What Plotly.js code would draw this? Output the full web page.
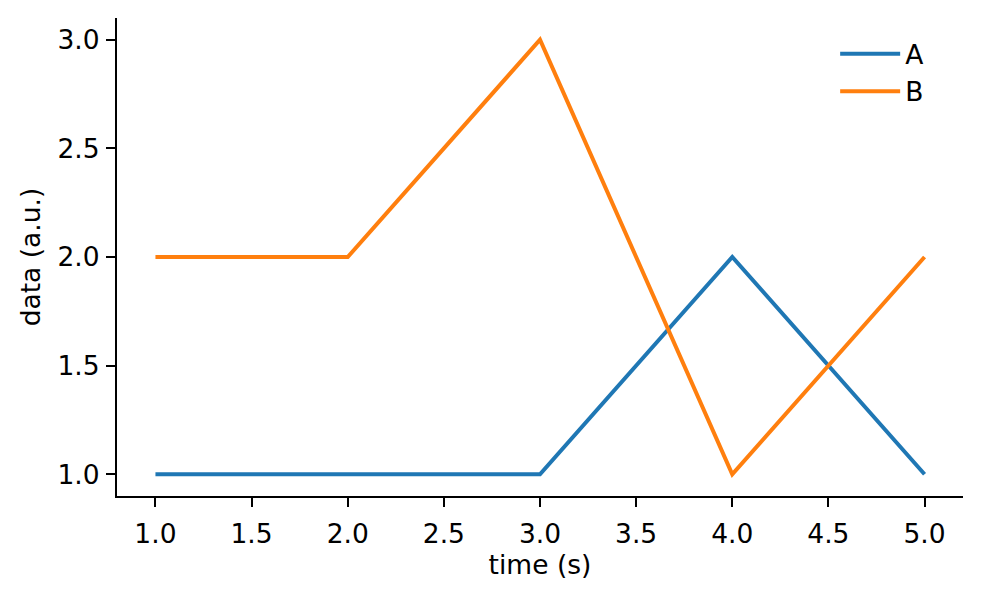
<!DOCTYPE html>
<html>
<head>
<meta charset="utf-8">
<script src="https://cdn.plot.ly/plotly-3.0.1.min.js"></script>
<style>
  html, body { margin: 0; padding: 0; background: white; }
  #chart { width: 982px; height: 598px; }
</style>
</head>
<body>
<div id="chart"></div>
<script>
// data
var time = [1, 2, 3, 4, 5]
var seriesA = [1, 1, 1, 2, 1]
var seriesB = [2, 2, 3, 1, 2]

var axisFont = {family: 'DejaVu Sans', size: 26.5, color: 'black'}

var data = [
  {
    type: 'scatter', mode: 'lines', name: 'A',
    x: time, y: seriesA,
    line: {color: '#1f77b4', width: 4}
  },
  {
    type: 'scatter', mode: 'lines', name: 'B',
    x: time, y: seriesB,
    line: {color: '#ff7f0e', width: 4}
  }
]

var layout = {
  width: 982,
  height: 598,
  margin: {l: 117, r: 19, t: 18, b: 102},
  paper_bgcolor: 'white',
  plot_bgcolor: 'white',
  font: axisFont,
  showlegend: true,
  legend: {
    x: 0.96, xanchor: 'right',
    y: 0.975, yanchor: 'top',
    bgcolor: 'rgba(0,0,0,0)',
    font: axisFont,
    itemwidth: 60,
    tracegroupgap: 0
  },
  xaxis: {
    range: [0.8, 5.2],
    tickvals: [1, 1.5, 2, 2.5, 3, 3.5, 4, 4.5, 5],
    tickformat: '.1f',
    ticks: 'outside', ticklen: 9, tickwidth: 2.2, tickcolor: 'black',
    ticklabelstandoff: 4,
    showline: true, linecolor: 'black', linewidth: 2.2,
    showgrid: false, zeroline: false,
    tickfont: axisFont,
    title: {text: 'time (s)', font: axisFont, standoff: 6}
  },
  yaxis: {
    range: [0.9, 3.1],
    tickvals: [1, 1.5, 2, 2.5, 3],
    tickformat: '.1f',
    ticks: 'outside', ticklen: 9, tickwidth: 2.2, tickcolor: 'black',
    ticklabelstandoff: 1,
    showline: true, linecolor: 'black', linewidth: 2.2,
    showgrid: false, zeroline: false,
    tickfont: axisFont,
    title: {text: 'data (a.u.)', font: axisFont, standoff: 9}
  }
}

Plotly.newPlot('chart', data, layout, {displayModeBar: false})
</script>
</body>
</html>
